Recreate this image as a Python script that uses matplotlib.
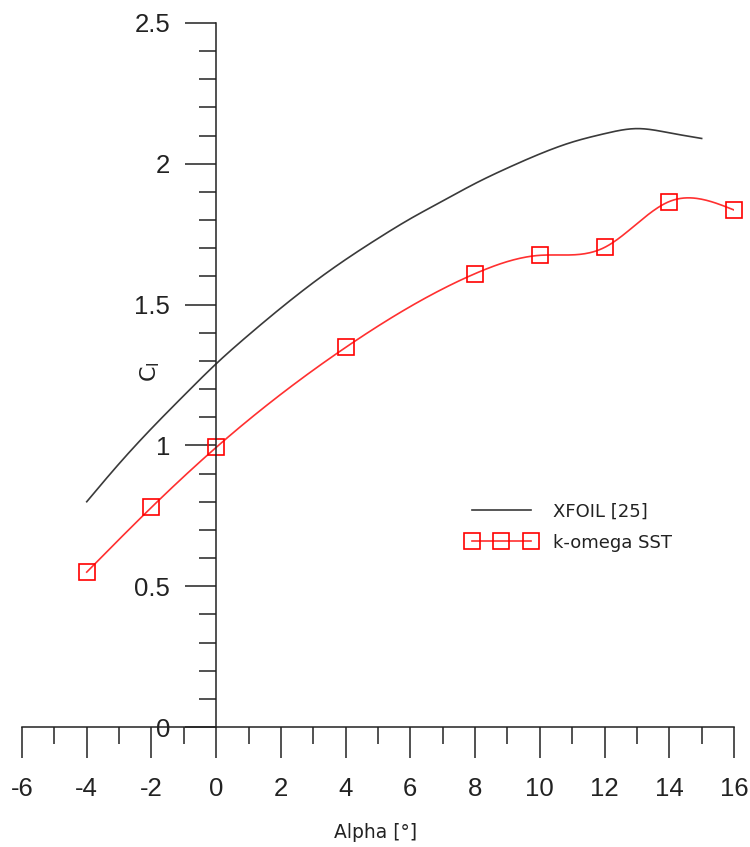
import numpy as np
import matplotlib
matplotlib.use("Agg")
import matplotlib.pyplot as plt
from matplotlib.ticker import MultipleLocator

# XFOIL [25] reference curve
xfoil_alpha = [-4, -3, -2, -1, 0, 1, 2, 3, 4, 5, 6, 7, 8, 9, 10, 11, 12, 13, 14, 15]
xfoil_cl = [0.80, 0.935, 1.06, 1.177, 1.29, 1.392, 1.488, 1.578, 1.66, 1.735,
            1.805, 1.868, 1.93, 1.985, 2.035, 2.077, 2.107, 2.125, 2.11, 2.09]

# k-omega SST simulation points
sst_alpha = [-4, -2, 0, 4, 8, 10, 12, 14, 16]
sst_cl = [0.55, 0.78, 0.993, 1.348, 1.61, 1.675, 1.703, 1.866, 1.836]

x_ticks = [-6, -4, -2, 0, 2, 4, 6, 8, 10, 12, 14, 16]
y_ticks = [0, 0.5, 1, 1.5, 2, 2.5]
y_ticklabels = ["0", "0.5", "1", "1.5", "2", "2.5"]


def natural_spline(x, y, n=400):
    x = np.asarray(x, float)
    y = np.asarray(y, float)
    m = len(x)
    h = np.diff(x)
    A = np.zeros((m, m))
    r = np.zeros(m)
    A[0, 0] = A[-1, -1] = 1.0
    for i in range(1, m - 1):
        A[i, i - 1] = h[i - 1]
        A[i, i] = 2 * (h[i - 1] + h[i])
        A[i, i + 1] = h[i]
        r[i] = 6 * ((y[i + 1] - y[i]) / h[i] - (y[i] - y[i - 1]) / h[i - 1])
    M = np.linalg.solve(A, r)
    xs = np.linspace(x[0], x[-1], n)
    idx = np.clip(np.searchsorted(x, xs) - 1, 0, m - 2)
    x0, x1 = x[idx], x[idx + 1]
    hh = x1 - x0
    a = (x1 - xs) / hh
    b = (xs - x0) / hh
    ys = (a * y[idx] + b * y[idx + 1]
          + ((a ** 3 - a) * M[idx] + (b ** 3 - b) * M[idx + 1]) * hh ** 2 / 6)
    return xs, ys


fig = plt.figure(figsize=(7.5, 8.47), dpi=100)
ax = fig.add_axes([22 / 750, 1 - 727 / 847, (734 - 22) / 750, (727 - 23) / 847])
ax.set_xlim(-6, 16)
ax.set_ylim(0, 2.5)

for s in ["top", "right"]:
    ax.spines[s].set_visible(False)
ax.spines["left"].set_position(("data", 0))
ax.spines["bottom"].set_position(("data", 0))
for s in ["left", "bottom"]:
    ax.spines[s].set_linewidth(1.1)
    ax.spines[s].set_color("#222222")

ax.set_xticks(x_ticks)
ax.set_xticklabels([str(t) for t in x_ticks])
ax.set_yticks(y_ticks)
ax.set_yticklabels(y_ticklabels)
ax.xaxis.set_minor_locator(MultipleLocator(1))
ax.yaxis.set_minor_locator(MultipleLocator(0.1))
ax.tick_params(axis="both", which="major", direction="out", length=22, width=1.1,
               color="#222222", labelsize=18.5, labelcolor="#222222")
ax.tick_params(axis="both", which="minor", direction="out", length=12, width=1.1,
               color="#222222")
ax.tick_params(axis="x", which="major", pad=14)
ax.tick_params(axis="y", which="major", pad=11)
for lab in ax.get_xticklabels() + ax.get_yticklabels():
    lab.set_family("Liberation Sans")

xs_x, ys_x = natural_spline(xfoil_alpha, xfoil_cl)
xfoil_line, = ax.plot(xs_x, ys_x, color="#3a3a3a", lw=1.2, label="XFOIL [25]")

xs, ys = natural_spline(sst_alpha, sst_cl)
ax.plot(xs, ys, color="#ff3030", lw=1.2)
ax.plot(sst_alpha, sst_cl, ls="none", marker="s", ms=12, mfc="none",
        mec="#ff0000", mew=1.2, clip_on=False)
sst_handle, = ax.plot([], [], color="#ff3030", lw=1.2, marker="s", ms=12,
                      mfc="none", mec="#ff0000", mew=1.2, label="k-omega SST")

leg = fig.legend(handles=[xfoil_line, sst_handle], loc="upper left",
                 bbox_to_anchor=(450 / 750, 1 - 486 / 847), frameon=False,
                 numpoints=3, handlelength=3.9, handletextpad=0.9,
                 labelspacing=0.75, prop={"family": "DejaVu Sans", "size": 13})
for t in leg.get_texts():
    t.set_color("#222222")

fig.text(376 / 750, 1 - 832 / 847, "Alpha [°]", ha="center", va="center",
         fontsize=13.5, family="DejaVu Sans", color="#222222")
fig.text(150 / 750, 1 - 372 / 847, r"C$_\mathregular{l}$", ha="center", va="center",
         rotation=90, fontsize=16, family="DejaVu Sans", color="#222222")

fig.savefig("out.png", dpi=100)
